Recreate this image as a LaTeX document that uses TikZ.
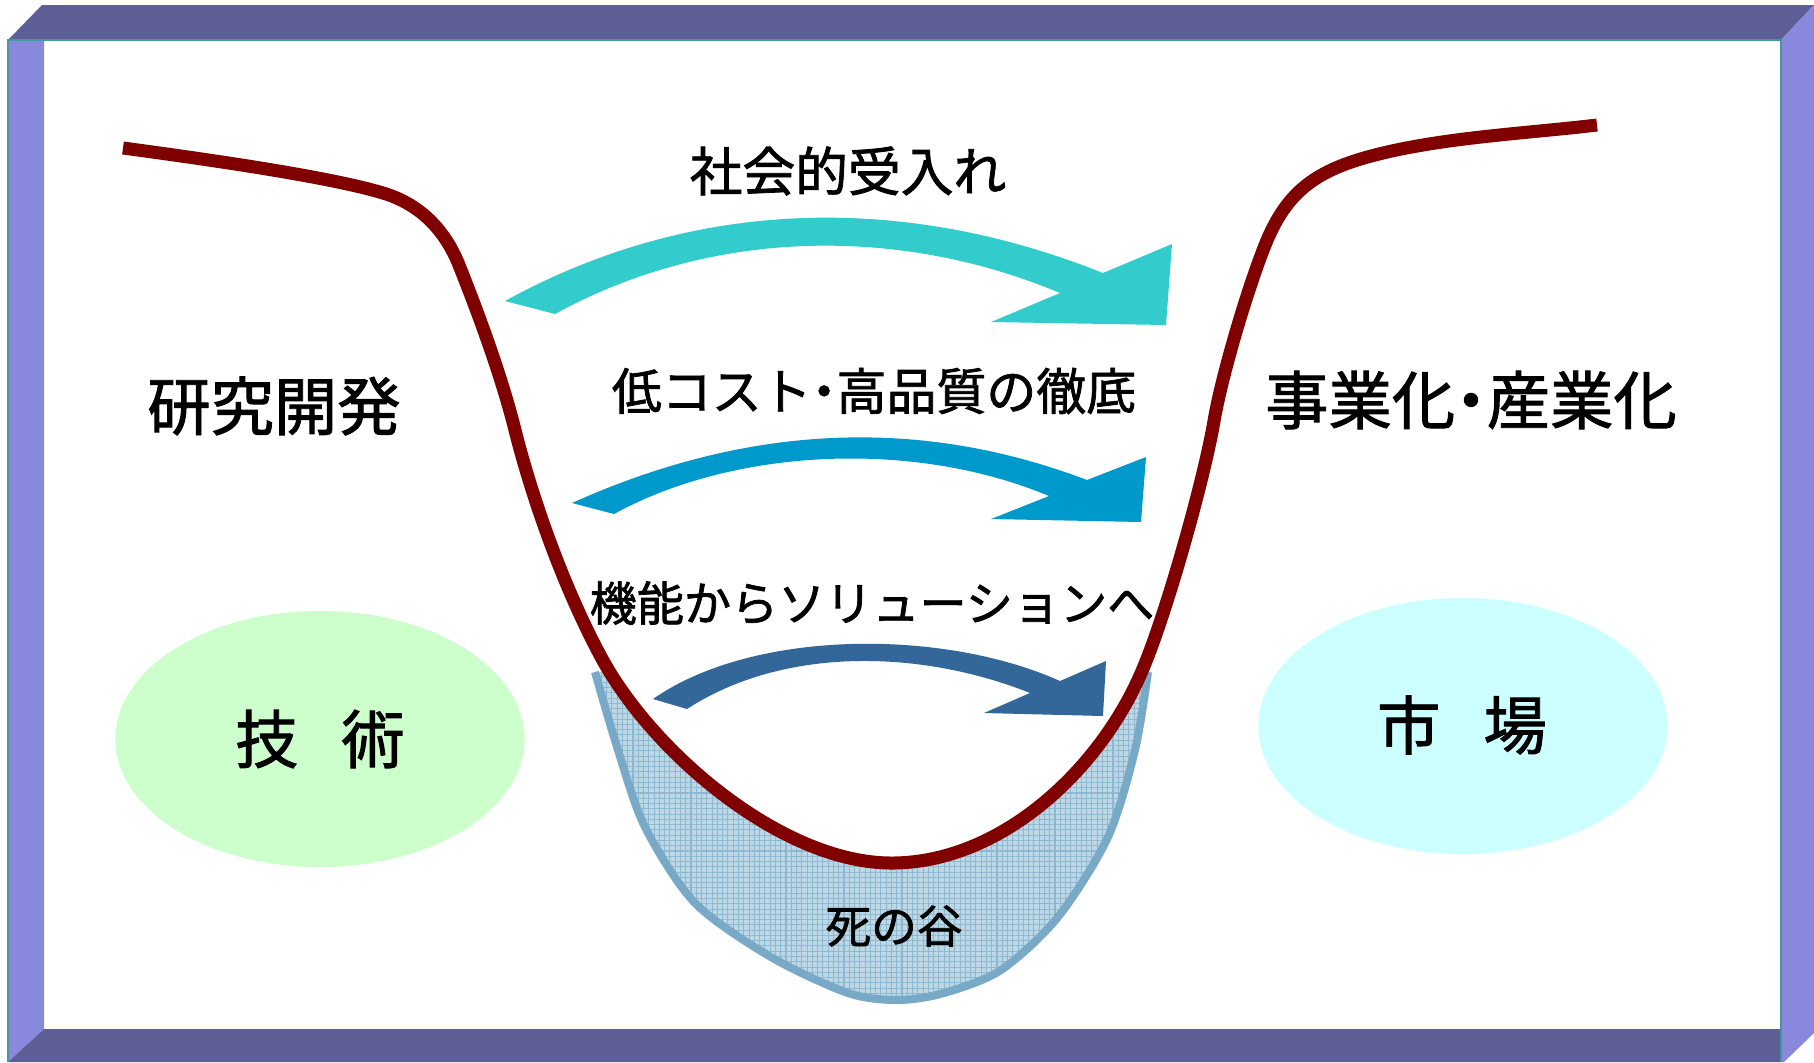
\documentclass[tikz,border=0pt]{standalone}
\usepackage{fontspec}
\setmainfont{Noto Sans CJK JP}[FakeBold=1.5]
\newfontfamily\jpbold{Noto Sans CJK JP}[FakeBold=1.5]
\usetikzlibrary{patterns.meta,shapes.geometric}

\definecolor{barDark}{RGB}{94,94,150}
\definecolor{barLight}{RGB}{136,136,221}
\definecolor{edgeTeal}{RGB}{70,150,160}
\definecolor{valleyRed}{RGB}{128,0,0}
\definecolor{uBorder}{RGB}{120,170,200}
\definecolor{uFill}{RGB}{190,215,228}
\definecolor{uGrid}{RGB}{140,184,210}
\definecolor{arrA}{RGB}{51,204,204}
\definecolor{arrB}{RGB}{0,153,204}
\definecolor{arrC}{RGB}{51,102,153}
\definecolor{techGreen}{RGB}{204,255,204}
\definecolor{mktCyan}{RGB}{204,255,255}

\tikzset{
  bigtext/.style={inner sep=0pt, font=\jpbold\fontsize{18pt}{20pt}\selectfont},
  midtext/.style={inner sep=0pt},
  blob/.style={ellipse, inner sep=0pt, minimum width=4.09cm, minimum height=2.56cm},
  redline/.style={draw=valleyRed, line width=0.13cm, line cap=butt},
  ubordline/.style={draw=uBorder, line width=0.08cm},
}

\begin{document}
\begin{tikzpicture}[x=0.01cm,y=-0.01cm]
\useasboundingbox (0,0) rectangle (1814,1062);
\fill[white] (0,0) rectangle (1814,1062);

% frame
\fill[barDark] (42,5) -- (1814,5) -- (1781,40) -- (8,40) -- cycle;
\fill[barLight] (8,40) -- (44,40) -- (44,1029) -- (8,1062) -- cycle;
\fill[barDark] (44,1029) -- (1781,1029) -- (1781,1062) -- (8,1062) -- cycle;
\fill[barLight] (1781,40) -- (1814,5) -- (1814,1033) -- (1784,1062) -- (1781,1062) -- cycle;
\draw[edgeTeal, line width=0.025cm] (8,1062) -- (8,40) -- (1781,40) -- (1781,1062);

% ellipses
\node[blob, fill=techGreen] (tech) at (320,739) {};
\node[blob, fill=mktCyan] (mkt) at (1463,726) {};
\node[bigtext] (techtxt) at (320,739) {技\hspace{0.68em}術};
\node[bigtext] (mkttxt) at (1462,725) {市\hspace{0.68em}場};

% valley of death
\fill[uFill] plot[smooth] coordinates {(595,672) (618,750) (645,827) (695,903) (771,957) (848,993) (898,1000) (944,993) (1001,970) (1058,917) (1108,837) (1135,750) (1148,672)} -- cycle;
\fill[pattern={Hatch[distance=1.5pt, line width=0.3pt]}, pattern color=uGrid] plot[smooth] coordinates {(595,672) (618,750) (645,827) (695,903) (771,957) (848,993) (898,1000) (944,993) (1001,970) (1058,917) (1108,837) (1135,750) (1148,672)} -- cycle;
\draw[ubordline] plot[smooth] coordinates {(595,672) (618,750) (645,827) (695,903) (771,957) (848,993) (898,1000) (944,993) (1001,970) (1058,917) (1108,837) (1135,750) (1148,672)};

% white inside of valley
\fill[white] (123,148) .. controls (250,165) and (340,180) .. (383,193)
  .. controls (420,204) and (445,230) .. (459,265)
  .. controls (473,300) and (500,370) .. (515,430)
  .. controls (530,490) and (560,580) .. (600,655)
  .. controls (650,750) and (780,862) .. (890,863)
  .. controls (1000,864) and (1100,770) .. (1142,671)
  .. controls (1166,615) and (1204,480) .. (1214,421)
  .. controls (1222,374) and (1250,280) .. (1268,238)
  .. controls (1290,188) and (1320,168) .. (1383,153)
  .. controls (1450,137) and (1530,133) .. (1597,125) -- cycle;

\node[midtext, font=\fontsize{13pt}{15pt}\selectfont] (death) at (894,926) {死の谷};

% arrows
\fill[arrA] (505,301) .. controls (700,193.75) and (911,196.2) .. (1103,273)
  -- (1172,244) -- (1166,325) -- (991,322) -- (1060,293)
  .. controls (898,225) and (710,228.75) .. (555,314) -- cycle;
\fill[arrB] (572,503) .. controls (744,425.6) and (916,415) .. (1087,480)
  -- (1146,457) -- (1141,522) -- (991,519) -- (1049,496)
  .. controls (913,439) and (733,448.5) .. (614,514) -- cycle;
\fill[arrC] (653,699) .. controls (753,629) and (943,628.4) .. (1060,681)
  -- (1106,661) -- (1103,716) -- (984,713) -- (1030,693)
  .. controls (923,650.2) and (785,645.3) .. (687,709) -- cycle;

% texts
\node[midtext, font=\fontsize{15pt}{17pt}\selectfont] (social) at (848,171) {社会的受入れ};
\node[midtext, font=\fontsize{14.2pt}{16pt}\selectfont] (cost) at (874,391) {低コスト\kern-0.25em・\kern-0.25em高品質の徹底};
\node[midtext, font=\fontsize{13.4pt}{15pt}\selectfont] (sol) at (872,603) {機能からソリューションへ};
\node[bigtext] (rnd) at (274,406) {研究開発};
\node[bigtext] (biz) at (1471,400) {事業化\kern-0.25em・\kern-0.25em産業化};

% valley curve
\draw[redline] (123,148) .. controls (250,165) and (340,180) .. (383,193)
  .. controls (420,204) and (445,230) .. (459,265)
  .. controls (473,300) and (500,370) .. (515,430)
  .. controls (530,490) and (560,580) .. (600,655)
  .. controls (650,750) and (780,862) .. (890,863)
  .. controls (1000,864) and (1100,770) .. (1142,671)
  .. controls (1166,615) and (1204,480) .. (1214,421)
  .. controls (1222,374) and (1250,280) .. (1268,238)
  .. controls (1290,188) and (1320,168) .. (1383,153)
  .. controls (1450,137) and (1530,133) .. (1597,125);
\end{tikzpicture}
\end{document}
